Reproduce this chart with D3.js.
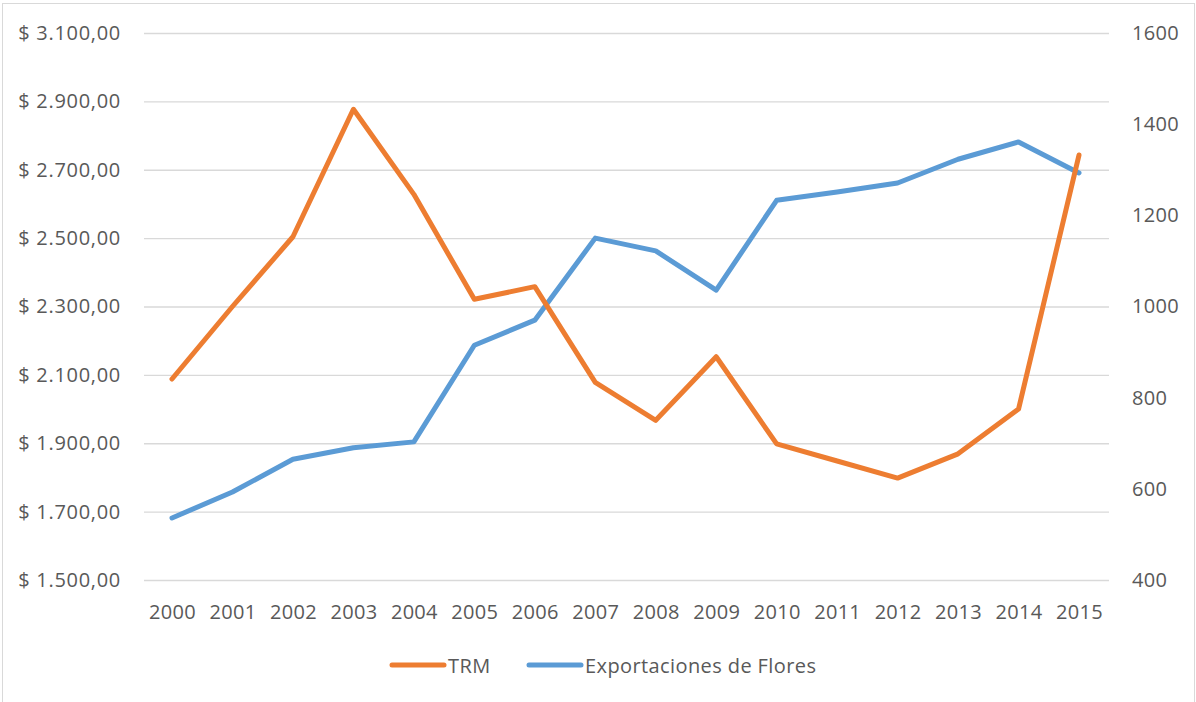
<!DOCTYPE html>
<html>
<head>
<meta charset="utf-8">
<script src="https://cdn.jsdelivr.net/npm/d3@7"></script>
<style>
  body { margin: 0; background: #fff; }
  text { font-family: "Open Sans", "Noto Sans", sans-serif; fill: #595959; }
</style>
</head>
<body>
<div id="chart"></div>
<script>
const years = ["2000","2001","2002","2003","2004","2005","2006","2007","2008","2009","2010","2011","2012","2013","2014","2015"];
const trmValues = [2088, 2300, 2504, 2877, 2628, 2321, 2358, 2078, 1967, 2153, 1898, 1848, 1798, 1869, 2000, 2743];
const exportValues = [536, 593, 665, 690, 703, 915, 970, 1150, 1122, 1036, 1233, 1251, 1271, 1323, 1361, 1293];
const leftTicks = [1500, 1700, 1900, 2100, 2300, 2500, 2700, 2900, 3100];
const rightTicks = [400, 600, 800, 1000, 1200, 1400, 1600];
const seriesNames = ["TRM", "Exportaciones de Flores"];

const W = 1196, H = 702;
const plot = { left: 144, right: 1109, top: 33, bottom: 580 };

const svg = d3.select("#chart").append("svg")
    .attr("width", W)
    .attr("height", H);

// chart frame
svg.append("rect")
    .attr("x", 2.5).attr("y", 3.5)
    .attr("width", W - 4).attr("height", H - 3)
    .attr("fill", "none")
    .attr("stroke", "#d9d9d9");

const x = d3.scalePoint().domain(years).range([172, 1079]);
const yLeft = d3.scaleLinear().domain([1500, 3100]).range([plot.bottom, plot.top]);
const yRight = d3.scaleLinear().domain([400, 1600]).range([plot.bottom, plot.top]);

const fmt = d => "$ " + d3.format(",.2f")(d).replace(/,/g, "#").replace(".", ",").replace(/#/g, ".");

// gridlines
svg.append("g")
    .selectAll("line")
    .data(leftTicks)
    .enter().append("line")
    .attr("x1", plot.left).attr("x2", plot.right)
    .attr("y1", d => yLeft(d) + 0.5).attr("y2", d => yLeft(d) + 0.5)
    .attr("stroke", "#d9d9d9")
    .attr("stroke-width", 1.3);

function styleAxis(g, spacing) {
    g.select(".domain").remove();
    g.selectAll("text")
        .style("font-size", "20px")
        .style("letter-spacing", spacing)
        .style("font-family", "'Open Sans', sans-serif")
        .attr("fill", "#595959");
}

// left axis
svg.append("g")
    .attr("transform", `translate(${plot.left - 23},0)`)
    .call(d3.axisLeft(yLeft).tickValues(leftTicks).tickFormat(fmt).tickSize(0).tickPadding(0))
    .call(g => styleAxis(g, "0.7px"));

// right axis
svg.append("g")
    .attr("transform", `translate(${plot.right + 23},0)`)
    .call(d3.axisRight(yRight).tickValues(rightTicks).tickFormat(d3.format("d")).tickSize(0).tickPadding(0))
    .call(g => styleAxis(g, "0.3px"));

// bottom axis
svg.append("g")
    .attr("transform", `translate(0,${plot.bottom + 21})`)
    .call(d3.axisBottom(x).tickSize(0).tickPadding(4))
    .call(g => styleAxis(g, "0.3px"));

const colors = ["#ed7d31", "#5b9bd5"];

const lineLeft = d3.line().x((d, i) => x(years[i])).y(d => yLeft(d));
const lineRight = d3.line().x((d, i) => x(years[i])).y(d => yRight(d));

svg.append("path")
    .datum(exportValues)
    .attr("d", lineRight)
    .attr("fill", "none")
    .attr("stroke", colors[1])
    .attr("stroke-width", 5)
    .attr("stroke-linejoin", "round")
    .attr("stroke-linecap", "round");

svg.append("path")
    .datum(trmValues)
    .attr("d", lineLeft)
    .attr("fill", "none")
    .attr("stroke", colors[0])
    .attr("stroke-width", 5)
    .attr("stroke-linejoin", "round")
    .attr("stroke-linecap", "round");

// legend
const legendItems = [
    { name: seriesNames[0], color: colors[0], x: 392 },
    { name: seriesNames[1], color: colors[1], x: 529 }
];
const legend = svg.append("g").attr("transform", "translate(0,665)");
legend.selectAll("line")
    .data(legendItems)
    .enter().append("line")
    .attr("x1", d => d.x).attr("x2", d => d.x + 52)
    .attr("y1", 0).attr("y2", 0)
    .attr("stroke", d => d.color)
    .attr("stroke-width", 5)
    .attr("stroke-linecap", "round");
legend.selectAll("text")
    .data(legendItems)
    .enter().append("text")
    .attr("x", d => d.x + 56)
    .attr("y", 1)
    .attr("dy", "0.35em")
    .style("font-size", "20px")
    .style("letter-spacing", "0.4px")
    .text(d => d.name);
</script>
</body>
</html>
